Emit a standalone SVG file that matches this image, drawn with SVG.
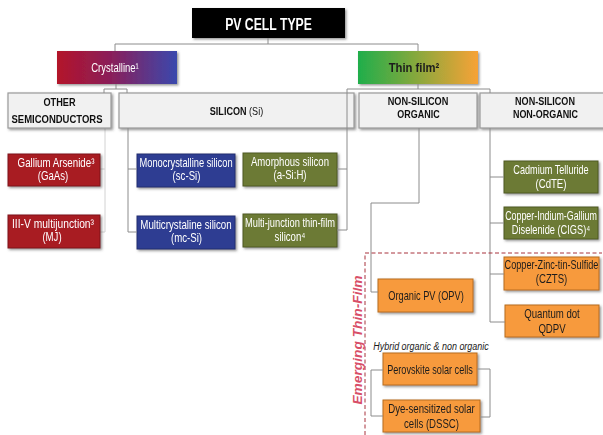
<svg xmlns="http://www.w3.org/2000/svg" width="603" height="435" viewBox="0 0 603 435">
<defs>
<linearGradient id="gCry" x1="0" y1="0" x2="1" y2="0">
<stop offset="0" stop-color="#b3142a"/><stop offset="0.45" stop-color="#8a1f5a"/><stop offset="1" stop-color="#3a48ad"/>
</linearGradient>
<linearGradient id="gThin" x1="0" y1="0" x2="1" y2="0">
<stop offset="0" stop-color="#1fae4b"/><stop offset="0.5" stop-color="#8aa83c"/><stop offset="1" stop-color="#f7a236"/>
</linearGradient>
<filter id="sh" x="-10%" y="-20%" width="130%" height="150%">
<feDropShadow dx="1.5" dy="1.5" stdDeviation="0.8" flood-color="#444" flood-opacity="0.55"/>
</filter>
<style>
.t{font-family:"Liberation Sans",Arial,sans-serif;text-anchor:middle}
.w{fill:#ffffff;font-size:12.5px}
.d{fill:#1c1c1c;font-size:12.5px}
.b{font-weight:bold;fill:#111;font-size:10.8px}
.cat{fill:#f1f1f1;stroke:#9a9a9a;stroke-width:1.2}
.red{fill:#a81b24;stroke:#7e1218;stroke-width:1}
.blue{fill:#2f3e92;stroke:#222d70;stroke-width:1}
.olv{fill:#6c7a35;stroke:#4f5a24;stroke-width:1}
.org{fill:#f79a3e;stroke:#b86c1c;stroke-width:1}
.c{fill:none;stroke:#8c8c8c;stroke-width:1}
.cf{fill:none;stroke:#d2d2d2;stroke-width:1}
</style>
</defs>
<rect width="603" height="435" fill="#ffffff"/>

<g id="connectors-under">
<path class="cf" d="M105,128 V232 M100,169 H105 M100,232 H105"/>
</g>

<g id="title" filter="url(#sh)">
<rect x="192" y="8" width="153" height="30" fill="#000000"/>
<text class="t" transform="translate(268.5,30) scale(0.72,1)" font-size="17" font-weight="bold" fill="#ffffff">PV CELL TYPE</text>
</g>

<g id="crystalline" filter="url(#sh)">
<rect x="57" y="51" width="120" height="33" fill="url(#gCry)"/>
<text class="t w" transform="translate(115,72) scale(0.76,1)">Crystalline¹</text>
</g>

<g id="thinfilm" filter="url(#sh)">
<rect x="358" y="51" width="120" height="33" fill="url(#gThin)"/>
<text class="t d" transform="translate(414,72) scale(0.9,1)" font-weight="bold">Thin film²</text>
</g>

<g id="other-semiconductors" filter="url(#sh)">
<rect class="cat" x="8" y="93" width="103" height="35"/>
<text class="t b" transform="translate(59.5,106) scale(0.85,1)">OTHER</text>
<text class="t b" transform="translate(57,123) scale(0.88,1)">SEMICONDUCTORS</text>
</g>

<g id="silicon" filter="url(#sh)">
<rect class="cat" x="119" y="93" width="235" height="35"/>
<text class="t b" transform="translate(236.5,115) scale(0.84,1)">SILICON<tspan font-weight="normal"> (Si)</tspan></text>
</g>

<g id="non-silicon-organic" filter="url(#sh)">
<rect class="cat" x="359" y="93" width="118" height="35"/>
<text class="t b" transform="translate(418,105) scale(0.85,1)">NON-SILICON</text>
<text class="t b" transform="translate(418.5,118) scale(0.83,1)">ORGANIC</text>
</g>

<g id="non-silicon-non-organic" filter="url(#sh)">
<rect class="cat" x="480" y="93" width="132" height="35"/>
<text class="t b" transform="translate(545,105) scale(0.84,1)">NON-SILICON</text>
<text class="t b" transform="translate(545.5,118) scale(0.83,1)">NON-ORGANIC</text>
</g>

<g id="gaas" filter="url(#sh)">
<rect class="red" x="8" y="154" width="92" height="32"/>
<text class="t w" transform="translate(56,167) scale(0.78,1)">Gallium Arsenide³</text>
<text class="t w" transform="translate(53,180) scale(0.77,1)">(GaAs)</text>
</g>

<g id="iii-v" filter="url(#sh)">
<rect class="red" x="8" y="215" width="92" height="33"/>
<text class="t w" transform="translate(53,228) scale(0.82,1)">III-V multijunction³</text>
<text class="t w" transform="translate(52,241) scale(0.77,1)">(MJ)</text>
</g>

<g id="mono" filter="url(#sh)">
<rect class="blue" x="137" y="154" width="98" height="33"/>
<text class="t w" transform="translate(186,167) scale(0.745,1)">Monocrystalline silicon</text>
<text class="t w" transform="translate(186.5,180) scale(0.77,1)">(sc-Si)</text>
</g>

<g id="multi" filter="url(#sh)">
<rect class="blue" x="137" y="216" width="98" height="33"/>
<text class="t w" transform="translate(186,229) scale(0.78,1)">Multicrystaline silicon</text>
<text class="t w" transform="translate(186.5,242) scale(0.77,1)">(mc-Si)</text>
</g>

<g id="amorphous" filter="url(#sh)">
<rect class="olv" x="243" y="153" width="94" height="33"/>
<text class="t w" transform="translate(290,166) scale(0.765,1)">Amorphous silicon</text>
<text class="t w" transform="translate(290,179) scale(0.77,1)">(a-Si:H)</text>
</g>

<g id="multijunction-tf" filter="url(#sh)">
<rect class="olv" x="243" y="214" width="94" height="33"/>
<text class="t w" transform="translate(290,227) scale(0.745,1)">Multi-junction thin-film</text>
<text class="t w" transform="translate(290,241) scale(0.77,1)">silicon⁴</text>
</g>

<g id="cdte" filter="url(#sh)">
<rect class="olv" x="504" y="161" width="94" height="32"/>
<text class="t w" transform="translate(551,174) scale(0.73,1)">Cadmium Telluride</text>
<text class="t w" transform="translate(551,188) scale(0.77,1)">(CdTE)</text>
</g>

<g id="cigs" filter="url(#sh)">
<rect class="olv" x="504" y="207" width="94" height="32"/>
<text class="t w" transform="translate(551,220) scale(0.71,1)">Copper-Indium-Gallium</text>
<text class="t w" transform="translate(551,234) scale(0.74,1)">Diselenide (CIGS)⁴</text>
</g>

<g id="czts" filter="url(#sh)">
<rect class="org" x="504" y="257" width="95" height="33"/>
<text class="t d" transform="translate(551.5,269) scale(0.73,1)">Copper-Zinc-tin-Sulfide</text>
<text class="t d" transform="translate(551.5,283) scale(0.77,1)">(CZTS)</text>
</g>

<g id="qdpv" filter="url(#sh)">
<rect class="org" x="505" y="305" width="94" height="32"/>
<text class="t d" transform="translate(552,318) scale(0.77,1)">Quantum dot</text>
<text class="t d" transform="translate(552,333) scale(0.77,1)">QDPV</text>
</g>

<g id="opv" filter="url(#sh)">
<rect class="org" x="378" y="279" width="95" height="33"/>
<text class="t d" transform="translate(426,300) scale(0.74,1)">Organic PV (OPV)</text>
</g>

<g id="perovskite" filter="url(#sh)">
<rect class="org" x="383" y="353" width="94" height="32"/>
<text class="t d" transform="translate(430,374) scale(0.73,1)">Perovskite solar cells</text>
</g>

<g id="dssc" filter="url(#sh)">
<rect class="org" x="383" y="400" width="97" height="32"/>
<text class="t d" transform="translate(431.5,413) scale(0.77,1)">Dye-sensitized solar</text>
<text class="t d" transform="translate(431.5,428) scale(0.77,1)">cells (DSSC)</text>
</g>

<g id="connectors">
<path class="c" d="M268,38 V44 M115,44 H418 M115,44 V51 M418,44 V51"/>
<path class="c" d="M116,84 V89 M104,89 H127 M104,89 V93 M127,89 V93"/>
<path class="c" d="M128,128 V232 M128,169 H137 M128,232 H137"/>
<path class="c" d="M418,84 V89 M347,89 H490 M347,89 V230 M337,169 H347 M337,230 H347 M490,89 V93"/>
<path class="c" d="M419,128 V203 H371 V292 H378 M383,370 H371 V416 H383"/>
<path class="c" d="M490,128 V322 M490,177 H504 M490,223 H504 M490,274 H504 M490,322 H505 M477,369 H490 V417 H480"/>
</g>

<g id="emerging-thin-film">
<path d="M365,435 V253 H602" fill="none" stroke="#a8333c" stroke-width="1" stroke-dasharray="4,2.5"/>
<text class="t" transform="translate(362,340) rotate(-90) scale(1.06,1)" font-size="13" font-weight="bold" font-style="italic" fill="#d84f68">Emerging Thin-Film</text>
<text class="t" transform="translate(431,350) scale(0.78,1)" font-size="11.5" font-style="italic" fill="#1c1c1c">Hybrid organic &amp; non organic</text>
</g>
</svg>
